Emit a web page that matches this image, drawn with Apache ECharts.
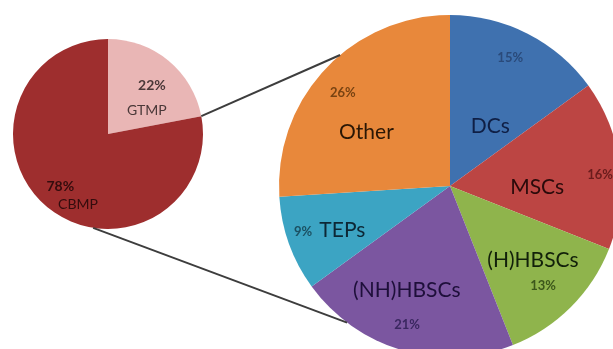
<!DOCTYPE html>
<html>
<head>
<meta charset="utf-8">
<script src="https://cdn.jsdelivr.net/npm/echarts@6/dist/echarts.min.js"></script>
<style>
html,body{margin:0;padding:0;background:#fff;}
#c{width:613px;height:349px;}
</style>
</head>
<body>
<div id="c"></div>
<script>
// ---- data ----
const leftCategories = ['GTMP', 'CBMP'];
const leftValues = [22, 78];
const rightCategories = ['DCs', 'MSCs', '(H)HBSCs', '(NH)HBSCs', 'TEPs', 'Other'];
const rightValues = [15, 16, 13, 21, 9, 26];

// ---- style ----
const leftColors = ['#e9b6b5', '#9e2e2e'];
const rightColors = ['#3f71af', '#bc4543', '#8fb44c', '#7b56a0', '#3ca4c3', '#e8883b'];
const leftNameColors = ['#4a3838', '#330c0d'];
const leftPctColors = ['#4a3838', '#330c0d'];
const rightNameColors = ['#0f1f45', '#2a0a0a', '#12200a', '#1e0f3a', '#0d2735', '#2a1705'];
const rightPctColors = ['#2a4a7a', '#6a1c1c', '#3c571b', '#3a2760', '#1b5062', '#784312'];

const leftCenter = [108, 134], leftR = 95;
const rightCenter = [450, 186], rightR = 171;
// label polar positions: [radius fraction, angle deg]
const leftNamePos = [[0.48, 31.6], [0.81, -113]];
const leftPctPos = [[0.69, 48], [0.75, -132]];
const rightNamePos = [[0.42, 55.9], [0.51, -0.7], [0.65, -41.7], [0.66, -112.5], [0.68, -157.8], [0.58, 147.4]];
const rightPctPos = [[0.83, 64.9], [0.88, 4.2], [0.80, -47.1], [0.85, -107.2], [0.90, -162.6], [0.83, 139]];
// connector lines: [left pie angle, right pie angle]
const connectors = [[90 - leftValues[0] * 3.6, 130], [-99, -127]];

const FONT = 'Lato, "Open Sans", sans-serif';

function polar(center, r, frac, deg) {
  const a = deg * Math.PI / 180;
  return [center[0] + r * frac * Math.cos(a), center[1] - r * frac * Math.sin(a)];
}

function makeLayout(center, r, posArr) {
  return function (params) {
    const p = polar(center, r, posArr[params.dataIndex][0], posArr[params.dataIndex][1]);
    return { x: p[0], y: p[1], align: 'center', verticalAlign: 'middle' };
  };
}

function pieSeries(cats, vals, colors, center, r, textColors, posArr, isPct, fontSize, weight) {
  return {
    type: 'pie',
    center: center,
    radius: r,
    startAngle: 90,
    clockwise: true,
    silent: true,
    animation: false,
    z: isPct ? 3 : 2,
    itemStyle: isPct ? { color: 'rgba(0,0,0,0)', borderWidth: 0 } : { borderWidth: 0 },
    emphasis: { disabled: true },
    labelLine: { show: false },
    label: {
      show: true,
      position: 'inside',
      fontFamily: FONT,
      fontSize: fontSize,
      fontWeight: weight,
      formatter: isPct ? (p) => p.value + '%' : (p) => p.name
    },
    labelLayout: makeLayout(center, r, posArr),
    data: cats.map((c, i) => ({
      name: c,
      value: vals[i],
      itemStyle: isPct ? undefined : { color: colors[i] },
      label: { color: textColors[i] }
    }))
  };
}

const lines = connectors.map(c => {
  const a = polar(leftCenter, leftR, 1, c[0]);
  const b = polar(rightCenter, rightR, 1, c[1]);
  return {
    type: 'line',
    z: 10,
    shape: { x1: a[0], y1: a[1], x2: b[0], y2: b[1] },
    style: { stroke: '#3d3d3d', lineWidth: 2 }
  };
});

const chart = echarts.init(document.getElementById('c'), null, { renderer: 'canvas' });
chart.setOption({
  backgroundColor: '#ffffff',
  animation: false,
  series: [
    pieSeries(leftCategories, leftValues, leftColors, leftCenter, leftR, leftNameColors, leftNamePos, false, 14, 'normal'),
    pieSeries(leftCategories, leftValues, leftColors, leftCenter, leftR, leftPctColors, leftPctPos, true, 14, 'bold'),
    pieSeries(rightCategories, rightValues, rightColors, rightCenter, rightR, rightNameColors, rightNamePos, false, 21, 'normal'),
    pieSeries(rightCategories, rightValues, rightColors, rightCenter, rightR, rightPctColors, rightPctPos, true, 13, 'bold')
  ],
  graphic: lines
});
</script>
</body>
</html>
